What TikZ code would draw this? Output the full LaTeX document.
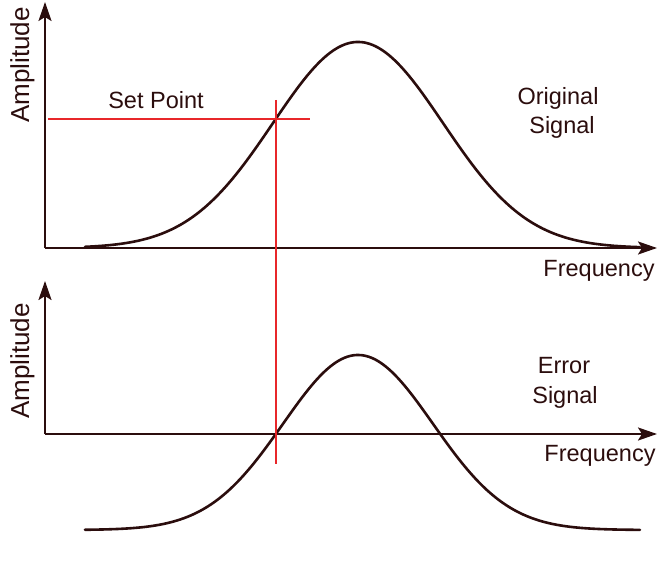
\documentclass[tikz,border=0pt]{standalone}
\usepackage{fontspec}
\setmainfont{Liberation Sans}
\usetikzlibrary{arrows.meta}
\definecolor{ink}{HTML}{2B0D0D}
\definecolor{redline}{HTML}{E8272A}
\begin{document}
\begin{tikzpicture}[x=1pt,y=-1pt,
  axis/.style={draw=ink,line width=2.4pt,-{Stealth[length=19pt,width=13pt,inset=4pt]}},
  curve/.style={draw=ink,line width=2.6pt},
  marker/.style={draw=redline,line width=1.4pt},
  lbl/.style={text=ink,font=\fontsize{23.5}{28}\selectfont,anchor=base,inner sep=0pt},
  vlbl/.style={lbl,font=\fontsize{26}{30}\selectfont,rotate=90}]
\useasboundingbox (0,0) rectangle (658,564);
% coordinates
\coordinate (o1) at (45,248);
\coordinate (y1) at (45,2);
\coordinate (x1) at (657,248);
\coordinate (o2) at (45,434);
\coordinate (y2) at (45,281);
\coordinate (x2) at (657,434);
\coordinate (h1) at (48,119);
\coordinate (h2) at (310,119);
\coordinate (v1) at (276,100);
\coordinate (v2) at (276,464);
% axes
\draw[axis] (o1) -- (y1);
\draw[axis] (o1) -- (x1);
\draw[axis] (o2) -- (y2);
\draw[axis] (o2) -- (x2);
% curves
\draw[curve,line cap=round] plot[domain=85:640,samples=200,smooth] (\x,{248-206*exp(-((\x-358)/85)^2/2)});
\draw[curve,line cap=round] plot[domain=85:640,samples=200,smooth] (\x,{530-175*exp(-((\x-358)/75)^2/2)});
% red markers
\draw[marker] (h1) -- (h2);
\draw[marker] (v1) -- (v2);
% labels
\node[lbl] (setp) at (156,109) {Set Point};
\node[lbl] (orig) at (558,105) {Original};
\node[lbl] (sig1) at (562,134) {Signal};
\node[lbl] (err) at (564,373) {Error};
\node[lbl] (sig2) at (565,403) {Signal};
\node[lbl] (fr1) at (599,276) {Frequency};
\node[lbl] (fr2) at (600,461) {Frequency};
\node[vlbl] (am1) at (29,65) {Amplitude};
\node[vlbl] (am2) at (29,361) {Amplitude};
\end{tikzpicture}
\end{document}
